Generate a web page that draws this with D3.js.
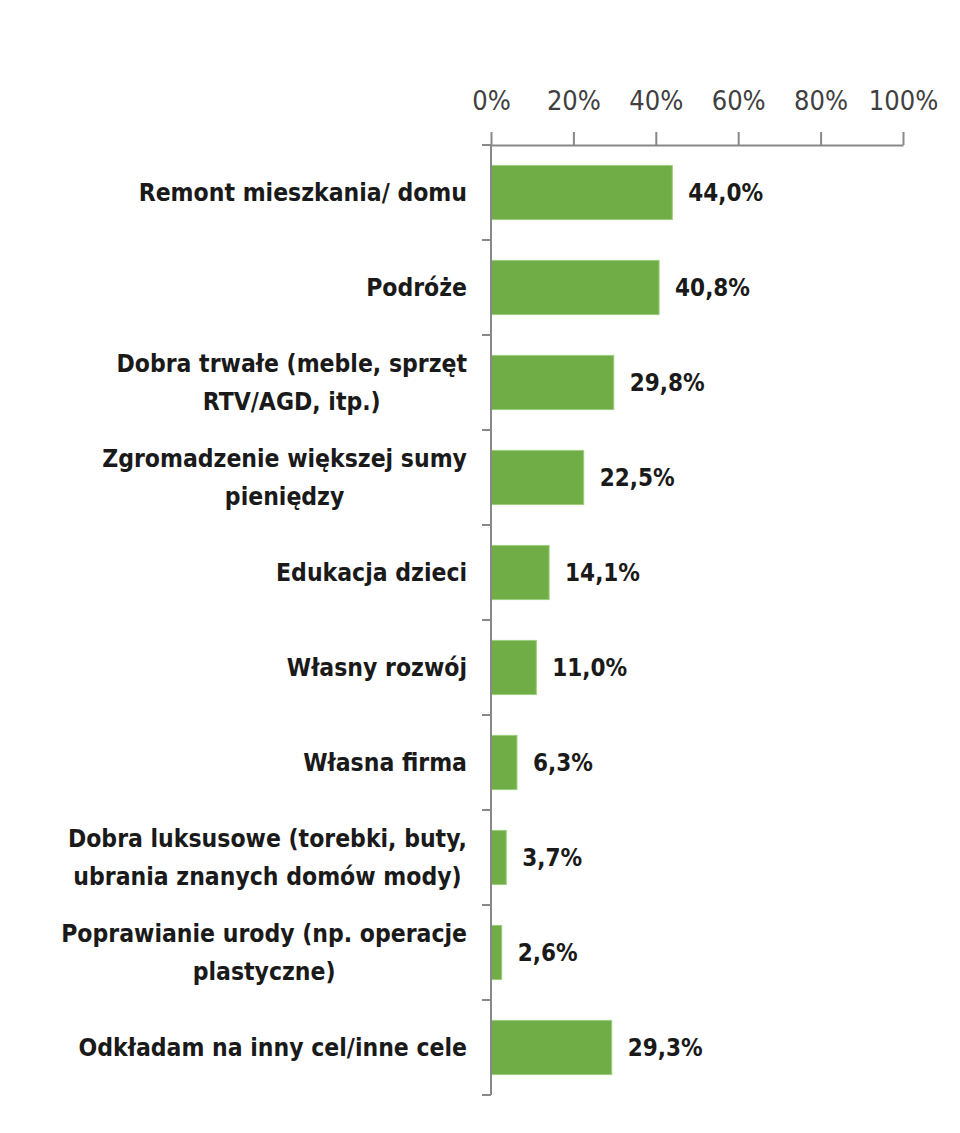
<!DOCTYPE html>
<html>
<head>
<meta charset="utf-8">
<script src="https://cdn.jsdelivr.net/npm/d3@7"></script>
<style>
  body { margin: 0; background: #fff; }
  text { font-family: "DejaVu Sans Condensed", "DejaVu Sans", sans-serif; }
</style>
</head>
<body>
<div class="chart"></div>
<script>
// data
const categories = [
    ['Remont mieszkania/ domu'],
    ['Podróże'],
    ['Dobra trwałe (meble, sprzęt', 'RTV/AGD, itp.)'],
    ['Zgromadzenie większej sumy', 'pieniędzy'],
    ['Edukacja dzieci'],
    ['Własny rozwój'],
    ['Własna firma'],
    ['Dobra luksusowe (torebki, buty,', 'ubrania znanych domów mody)'],
    ['Poprawianie urody (np. operacje', 'plastyczne)'],
    ['Odkładam na inny cel/inne cele']
];
const values = [44.0, 40.8, 29.8, 22.5, 14.1, 11.0, 6.3, 3.7, 2.6, 29.3];
const tickValues = [0, 20, 40, 60, 80, 100];
const tickLabels = ['0%', '20%', '40%', '60%', '80%', '100%'];

const data = categories.map((lines, i) => ({ key: i, lines: lines, value: values[i] }));

const fmt = v => d3.format('.1f')(v).replace('.', ',') + '%';

const margin = { top: 145, right: 57, bottom: 38, left: 491 };
const totalW = 960, totalH = 1133;
const width = totalW - margin.left - margin.right;
const height = totalH - margin.top - margin.bottom;

const xScale = d3.scaleLinear().domain([0, 100]).range([0, width]);

// full bands, used for the y ticks and labels
const yBand = d3.scaleBand().domain(data.map(d => d.key)).range([0, height]);

// bars sit inside the bands
const yBar = d3.scaleBand()
    .domain(data.map(d => d.key))
    .range([0, height])
    .paddingInner(0.43)
    .paddingOuter(0.215);

const svg = d3.select('.chart')
    .append('svg')
    .attr('width', totalW)
    .attr('height', totalH)
    .append('g')
    .attr('transform', `translate(${margin.left}, ${margin.top})`);

// bars
svg.selectAll('.bar')
    .data(data)
    .enter()
    .append('rect')
        .attr('class', 'bar')
        .attr('x', 0)
        .attr('y', d => yBar(d.key))
        .attr('width', d => xScale(d.value))
        .attr('height', yBar.bandwidth())
        .style('fill', '#70ad47')
        .style('stroke', '#9bcf7c')
        .style('stroke-width', 1);

// x axis on top
const xAxis = d3.axisTop(xScale)
    .tickValues(tickValues)
    .tickFormat((d, i) => tickLabels[i])
    .tickSizeInner(13)
    .tickSizeOuter(0)
    .tickPadding(22);

const xAxisDraw = svg.append('g').attr('class', 'x axis').call(xAxis);
xAxisDraw.select('.domain').attr('stroke', '#888').attr('stroke-width', 2);
xAxisDraw.selectAll('.tick line').attr('stroke', '#888').attr('stroke-width', 2);
xAxisDraw.selectAll('.tick text')
    .attr('font-size', 27)
    .attr('fill', '#404040')
    .style('font-family', '"DejaVu Sans Condensed", sans-serif');

// y axis line and band ticks
const yAxisG = svg.append('g').attr('class', 'y axis');
yAxisG.append('line')
    .attr('x1', 0).attr('x2', 0)
    .attr('y1', 0).attr('y2', height)
    .attr('stroke', '#888').attr('stroke-width', 2);

const boundaries = data.map(d => yBand(d.key)).concat([height]);
yAxisG.selectAll('.ytick')
    .data(boundaries)
    .enter()
    .append('line')
        .attr('class', 'ytick')
        .attr('x1', -9).attr('x2', 0)
        .attr('y1', d => d).attr('y2', d => d)
        .attr('stroke', '#888').attr('stroke-width', 2);

// category labels (wrapped lines centred within the block, block right-aligned)
const lineH = 38;
const labels = svg.selectAll('.cat')
    .data(data)
    .enter()
    .append('text')
        .attr('class', 'cat')
        .attr('font-size', 24.5)
        .attr('font-weight', 'bold')
        .attr('fill', '#1a1a1a');

labels.each(function(d) {
    const t = d3.select(this);
    const cy = yBand(d.key) + yBand.bandwidth() / 2;
    const top = cy - (d.lines.length - 1) * lineH / 2;
    d.lines.forEach((l, i) => {
        t.append('tspan')
            .attr('y', top + i * lineH)
            .attr('dy', '0.35em')
            .text(l);
    });
    const spans = t.selectAll('tspan').nodes();
    const maxW = d3.max(spans, n => n.getComputedTextLength());
    const cx = -24 - maxW / 2;
    t.selectAll('tspan').attr('x', cx).attr('text-anchor', 'middle');
});

// value labels
svg.selectAll('.val')
    .data(data)
    .enter()
    .append('text')
        .attr('class', 'val')
        .attr('x', d => xScale(d.value) + 16)
        .attr('y', d => yBar(d.key) + yBar.bandwidth() / 2)
        .attr('dy', '0.35em')
        .attr('font-size', 24)
        .attr('font-weight', 'bold')
        .attr('fill', '#1a1a1a')
        .text(d => fmt(d.value));
</script>
</body>
</html>
